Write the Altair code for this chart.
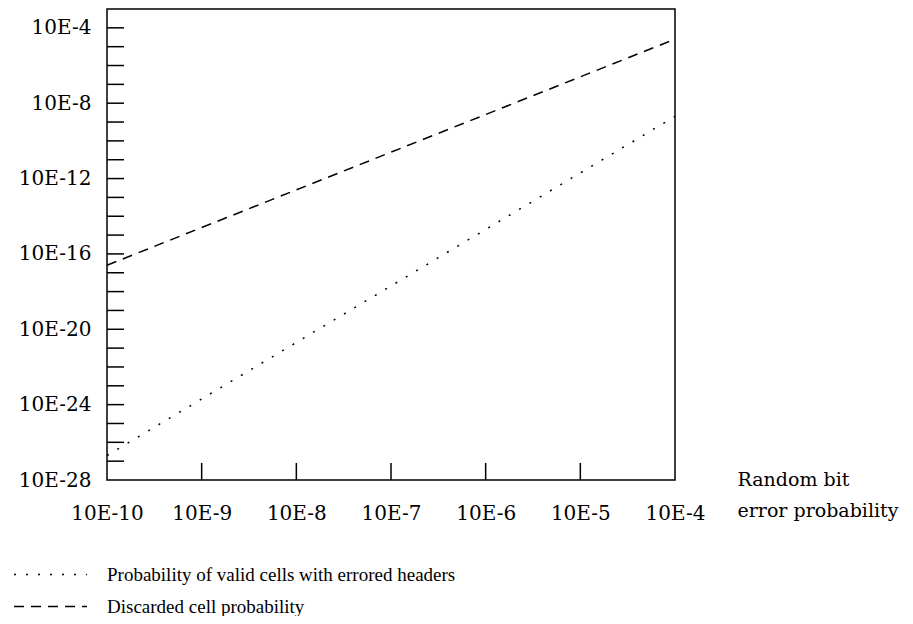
import altair as alt
import pandas as pd

# Data (exponents, log10 scale)
bit_error_exp = [-10, -9, -8, -7, -6, -5, -4]
discarded_exp = [-16.6, -14.6, -12.6, -10.6, -8.6, -6.6, -4.6]
valid_errored_exp = [-26.7, -23.7, -20.7, -17.7, -14.7, -11.7, -8.7]
series_names = ["Probability of valid cells with errored headers", "Discarded cell probability"]
y_label_values = [-28, -24, -20, -16, -12, -8, -4]
y_tick_values = list(range(-27, -3))
x_tick_values = [-9, -8, -7, -6, -5]
x_axis_title = ["Random bit", "error probability"]

W, H = 568, 471
TICK = 17

rows = []
for xv, yv in zip(bit_error_exp, valid_errored_exp):
    rows.append({"x": xv, "y": yv, "series": series_names[0]})
for xv, yv in zip(bit_error_exp, discarded_exp):
    rows.append({"x": xv, "y": yv, "series": series_names[1]})
df = pd.DataFrame(rows)

xscale = alt.Scale(domain=[-10, -4], nice=False, zero=False)
yscale = alt.Scale(domain=[-28, -3], nice=False, zero=False)

axis_font = "DejaVu Serif"
xaxis = alt.Axis(
    values=bit_error_exp, labelExpr="'10E' + datum.value", grid=False, domain=False, ticks=False,
    labelFont=axis_font, labelFontSize=20, labelColor="black", labelPadding=23, labelFlush=False,
    labelOverlap=False, title=x_axis_title, titleFont=axis_font, titleFontSize=19,
    titleFontWeight="normal", titleColor="black", titleAlign="left", titleBaseline="top",
    titleX=630, titleY=-10, titleLineHeight=31, titleAngle=0,
)
yaxis = alt.Axis(
    values=y_label_values, labelExpr="'10E' + datum.value", grid=False, domain=False, ticks=False,
    labelFont=axis_font, labelFontSize=20, labelColor="black", labelPadding=16, labelFlush=False,
    labelOverlap=False, labelBaseline="middle", title=None,
)

lines = alt.Chart(df).mark_line(color="black", strokeWidth=1.5).encode(
    x=alt.X("x:Q", scale=xscale, axis=xaxis),
    y=alt.Y("y:Q", scale=yscale, axis=yaxis),
    strokeDash=alt.StrokeDash(
        "series:N",
        scale=alt.Scale(domain=series_names, range=[[2, 10], [10, 7]]),
        legend=alt.Legend(
            title=None, orient="none", legendX=-66, legendY=556, direction="vertical",
            symbolType="M-5,0H5", symbolSize=213, symbolStrokeWidth=1.5,
            symbolStrokeColor="black", labelFont="Liberation Serif", labelFontSize=19,
            labelColor="black", labelLimit=600, labelOffset=47, rowPadding=12, padding=0,
        ),
    ),
)

yticks = alt.Chart(pd.DataFrame({"v": y_tick_values})).mark_rule(color="black", strokeWidth=1.5).encode(
    y=alt.Y("v:Q", scale=yscale, axis=yaxis),
    x=alt.value(0),
    x2=alt.value(TICK),
)

xticks = alt.Chart(pd.DataFrame({"v": x_tick_values})).mark_rule(color="black", strokeWidth=1.5).encode(
    x=alt.X("v:Q", scale=xscale, axis=xaxis),
    y=alt.value(H - TICK),
    y2=alt.value(H),
)

chart = alt.layer(xticks, yticks, lines).properties(
    width=W, height=H,
    autosize=alt.AutoSizeParams(type="none"),
    padding={"left": 99, "top": 1, "right": 230, "bottom": 136},
    background="white",
).configure_view(stroke="black", strokeWidth=1.5)

chart.save("out.html", embed_options={"renderer": "svg", "actions": False})
